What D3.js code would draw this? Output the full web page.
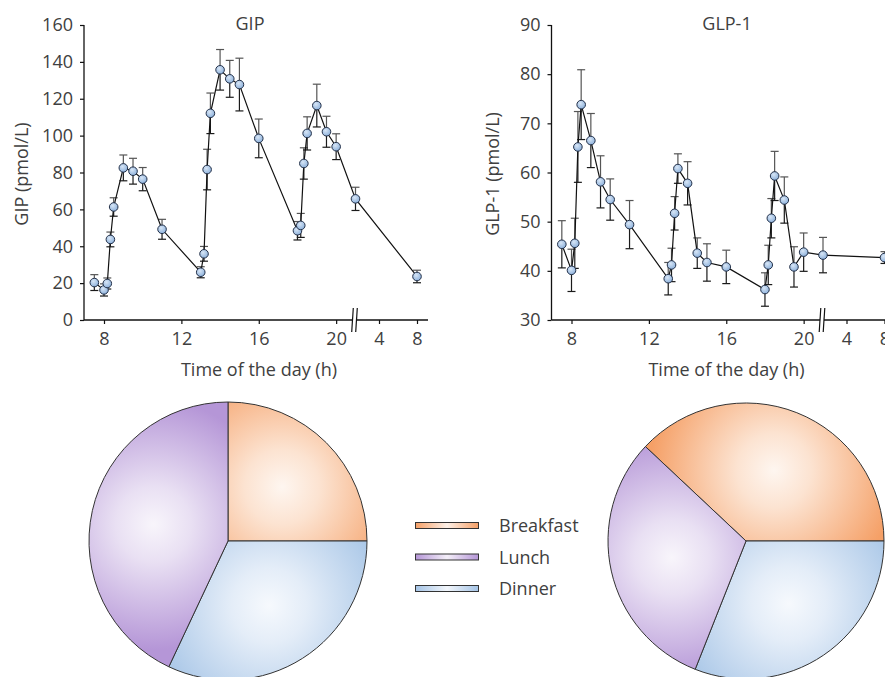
<!DOCTYPE html>
<html>
<head>
<meta charset="utf-8">
<script src="https://cdn.jsdelivr.net/npm/d3@7"></script>
<style>
  html, body { margin: 0; padding: 0; background: #fff; }
  svg { display: block; }
  text { font-family: "Open Sans", "Noto Sans", sans-serif; fill: #404040; }
</style>
</head>
<body>
<svg id="chart" width="885" height="677"></svg>
<script>
// ---------- data ----------
const times = [7.5, 8, 8.17, 8.33, 8.5, 9, 9.5, 10, 11, 13, 13.17, 13.33, 13.5, 14, 14.5, 15, 16, 18, 18.17, 18.33, 18.5, 19, 19.5, 20, 21, 32];
const gipValues = [20.3, 16.3, 19.8, 43.7, 61.3, 82.5, 80.7, 76.4, 49.2, 25.9, 35.9, 81.6, 112.1, 135.7, 130.8, 127.7, 98.5, 48.4, 51.3, 84.9, 101.2, 116.3, 102.1, 94.0, 65.7, 23.6];
const gipErrors = [4.3, 3.3, 3.0, 4.0, 5.0, 7.0, 7.0, 6.3, 5.4, 3.0, 4.0, 11.0, 11.0, 11.0, 10.0, 14.3, 10.5, 5.0, 6.5, 8.5, 9.0, 11.6, 8.4, 7.0, 6.3, 3.4];
const glpValues = [45.4, 40.1, 45.6, 65.2, 73.8, 66.5, 58.1, 54.5, 49.4, 38.4, 41.2, 51.7, 60.8, 57.8, 43.6, 41.7, 40.8, 36.2, 41.2, 50.7, 59.3, 54.4, 40.8, 43.8, 43.2, 42.7];
const glpErrors = [4.8, 4.3, 5.1, 7.2, 7.1, 5.5, 5.3, 4.2, 4.9, 3.3, 3.4, 3.4, 3.0, 4.4, 3.1, 3.8, 3.4, 3.4, 4.0, 4.0, 5.0, 4.7, 4.1, 3.9, 3.6, 1.2];
const xTickValues = [8, 12, 16, 20, 28, 32];      // 28 = 4 h, 32 = 8 h next day
const gipTicks = [0, 20, 40, 60, 80, 100, 120, 140, 160];
const glpTicks = [30, 40, 50, 60, 70, 80, 90];
const meals = ["Breakfast", "Dinner", "Lunch"];
const gipShares = [25, 32, 43];
const glpShares = [38, 31, 31];
const mealColors = { Breakfast: "#f5a067", Lunch: "#b596d7", Dinner: "#a5c4e6" };
const legendOrder = ["Breakfast", "Lunch", "Dinner"];

const svg = d3.select("#chart");
const defs = svg.append("defs");

// marker gradient
const mg = defs.append("radialGradient").attr("id", "markerGrad").attr("cx", "40%").attr("cy", "35%").attr("r", "65%");
mg.append("stop").attr("offset", "0%").attr("stop-color", "#d8e6f6");
mg.append("stop").attr("offset", "100%").attr("stop-color", "#8eb2dc");

function drawPanel(opts) {
  const L = opts.left, top = 25, bottom = 320;
  const x = d3.scaleLinear().domain([8, 21, 28, 32]).range([L + 20, L + 271.5, L + 295, L + 333]);
  const y = d3.scaleLinear().domain(opts.domain).range([bottom, top]);
  const g = svg.append("g");

  // y axis
  const ya = g.append("g").attr("transform", `translate(${L},0)`)
    .call(d3.axisLeft(y).tickValues(opts.yTicks).tickSize(4).tickSizeOuter(0).tickPadding(7));
  ya.select(".domain").remove();
  ya.append("line").attr("x1", 0).attr("x2", 0).attr("y1", top).attr("y2", bottom).attr("stroke", "#111").attr("stroke-width", 1.3);
  ya.selectAll(".tick line").attr("stroke", "#111").attr("stroke-width", 1.2);
  ya.selectAll(".tick text").style("font-size", "18px").style("font-family", "Open Sans").attr("fill", "#404040");

  // x axis
  const xa = g.append("g").attr("transform", `translate(0,${bottom})`)
    .call(d3.axisBottom(x).tickValues(xTickValues).tickFormat(d => d % 24).tickSize(4).tickSizeOuter(0).tickPadding(8));
  xa.select(".domain").remove();
  xa.append("line").attr("x1", L).attr("x2", L + 344).attr("y1", 0).attr("y2", 0).attr("stroke", "#111").attr("stroke-width", 1.3);
  xa.selectAll(".tick line").attr("stroke", "#111").attr("stroke-width", 1.2);
  xa.selectAll(".tick text").style("font-size", "18px").style("font-family", "Open Sans").attr("fill", "#404040");

  // axis break
  const bx = x(21) - 1;
  xa.append("rect").attr("x", bx - 2).attr("y", -2).attr("width", 4).attr("height", 4).attr("fill", "#fff");
  [-2, 2].forEach(o => {
    xa.append("line").attr("x1", bx + o + 0.8).attr("x2", bx + o - 0.8).attr("y1", -12).attr("y2", 12)
      .attr("stroke", "#111").attr("stroke-width", 1.2);
  });

  // titles
  g.append("text").attr("x", opts.titleX).attr("y", 30).attr("text-anchor", "middle").style("font-size", "18px").text(opts.title);
  g.append("text").attr("transform", `translate(${opts.yTitleX},174) rotate(-90)`).attr("text-anchor", "middle")
    .style("font-size", "18px").text(opts.yTitle);
  g.append("text").attr("x", L + 175).attr("y", 376).attr("text-anchor", "middle").style("font-size", "18px").text("Time of the day (h)");

  const pts = times.map((t, i) => ({ t, v: opts.values[i], e: opts.errors[i] }));

  // error bars
  const eb = g.append("g");
  pts.forEach(p => {
    const cx = x(p.t);
    eb.append("line").attr("x1", cx).attr("x2", cx).attr("y1", y(p.v)).attr("y2", y(p.v + p.e)).attr("stroke", "#555").attr("stroke-width", 1.2);
    eb.append("line").attr("x1", cx - 4).attr("x2", cx + 4).attr("y1", y(p.v + p.e)).attr("y2", y(p.v + p.e)).attr("stroke", "#555").attr("stroke-width", 1.2);
    eb.append("line").attr("x1", cx).attr("x2", cx).attr("y1", y(p.v)).attr("y2", y(p.v - p.e)).attr("stroke", "#1a1a1a").attr("stroke-width", 1.2);
    eb.append("line").attr("x1", cx - 4).attr("x2", cx + 4).attr("y1", y(p.v - p.e)).attr("y2", y(p.v - p.e)).attr("stroke", "#1a1a1a").attr("stroke-width", 1.2);
  });

  // line
  g.append("path").datum(pts).attr("fill", "none").attr("stroke", "#111").attr("stroke-width", 1.2)
    .attr("d", d3.line().x(d => x(d.t)).y(d => y(d.v)));

  // markers
  g.selectAll("circle.pt").data(pts).join("circle").attr("class", "pt")
    .attr("cx", d => x(d.t)).attr("cy", d => y(d.v)).attr("r", 4.3)
    .attr("fill", "url(#markerGrad)").attr("stroke", "#233048").attr("stroke-width", 1);
}

drawPanel({ left: 84, domain: [0, 160], yTicks: gipTicks, values: gipValues, errors: gipErrors,
  title: "GIP", titleX: 250, yTitle: "GIP (pmol/L)", yTitleX: 28 });
drawPanel({ left: 551.5, domain: [30, 90], yTicks: glpTicks, values: glpValues, errors: glpErrors,
  title: "GLP-1", titleX: 727, yTitle: "GLP-1 (pmol/L)", yTitleX: 499 });

// ---------- pies ----------
let gradId = 0;
function drawPie(cx, cy, r, shares) {
  const bIdx = meals.indexOf("Breakfast");
  const total = d3.sum(shares);
  const bAngle = shares[bIdx] / total * 2 * Math.PI;
  const pie = d3.pie().sort(null).value(d => d.v).startAngle(Math.PI / 2 - bAngle).endAngle(Math.PI / 2 - bAngle + 2 * Math.PI);
  const arcs = pie(meals.map((m, i) => ({ m, v: shares[i] })));
  const arc = d3.arc().innerRadius(0).outerRadius(r);
  const g = svg.append("g").attr("transform", `translate(${cx},${cy})`);
  arcs.forEach(a => {
    const id = "pg" + (gradId++);
    const mid = (a.startAngle + a.endAngle) / 2;
    const gx = Math.sin(mid) * r * 0.55, gy = -Math.cos(mid) * r * 0.55;
    const rg = defs.append("radialGradient").attr("id", id).attr("gradientUnits", "userSpaceOnUse")
      .attr("cx", gx).attr("cy", gy).attr("r", r * 0.9);
    const c = mealColors[a.data.m];
    rg.append("stop").attr("offset", "0%").attr("stop-color", d3.interpolateRgb(c, "#ffffff")(0.9));
    rg.append("stop").attr("offset", "30%").attr("stop-color", d3.interpolateRgb(c, "#ffffff")(0.7));
    rg.append("stop").attr("offset", "100%").attr("stop-color", c);
    g.append("path").attr("d", arc(a)).attr("fill", `url(#${id})`).attr("stroke", "#333").attr("stroke-width", 1);
  });
}
drawPie(228, 541, 139, gipShares);
drawPie(746, 541, 138, glpShares);

// ---------- legend ----------
const lg = svg.append("g");
const ly = d3.scalePoint().domain(legendOrder).range([525.5, 588.5]);
legendOrder.forEach(m => {
  const id = "lg" + m;
  const lin = defs.append("linearGradient").attr("id", id).attr("x1", "0%").attr("x2", "100%");
  const c = mealColors[m];
  lin.append("stop").attr("offset", "0%").attr("stop-color", c);
  lin.append("stop").attr("offset", "50%").attr("stop-color", d3.interpolateRgb(c, "#ffffff")(0.85));
  lin.append("stop").attr("offset", "100%").attr("stop-color", c);
  lg.append("rect").attr("x", 415.5).attr("y", ly(m) - 3).attr("width", 63).attr("height", 6)
    .attr("fill", `url(#${id})`).attr("stroke", "#333").attr("stroke-width", 1);
  lg.append("text").attr("x", 499).attr("y", ly(m) + 6.5).style("font-size", "18px").text(m);
});
</script>
</body>
</html>
